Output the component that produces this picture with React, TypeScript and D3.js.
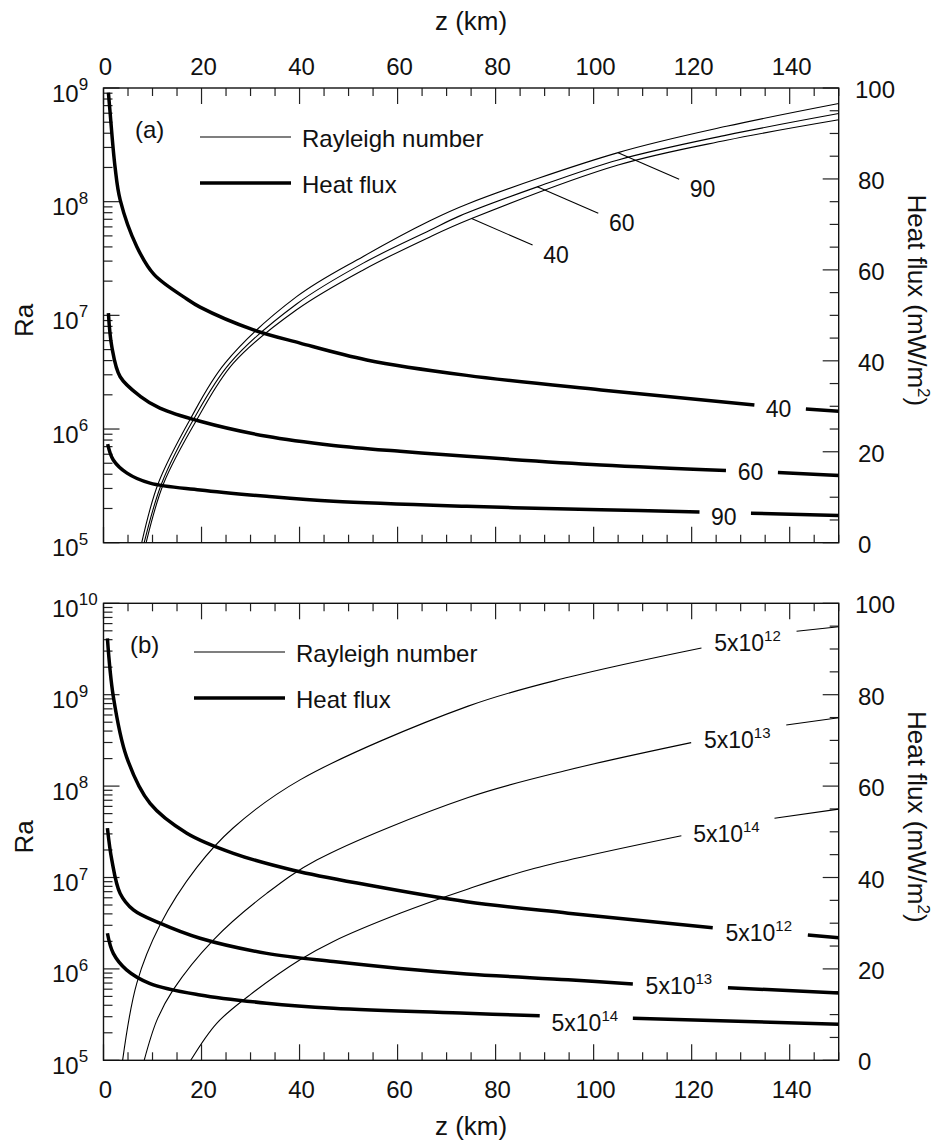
import React from 'react';
import * as d3 from 'd3';

// ---------------- data ----------------
const zTickLabels = [0, 20, 40, 60, 80, 100, 120, 140];
const heatTickLabels = [0, 20, 40, 60, 80, 100];
const raExponentsA = [5, 6, 7, 8, 9];
const raExponentsB = [5, 6, 7, 8, 9, 10];

// Panel (a) Rayleigh number curves [z (km), Ra]
const raA90: [number, number][] = [
  [7.8, 1.0e5], [11.2, 3.35e5], [17.6, 1.2e6], [24.8, 3.8e6], [39.4, 1.46e7], [53.0, 3.3e7],
  [66.6, 6.8e7], [74.4, 9.6e7], [105.0, 2.7e8], [127.1, 4.6e8], [150, 7.3e8],
];
const raA60: [number, number][] = [
  [8.3, 1.0e5], [11.9, 3.35e5], [18.3, 1.2e6], [25.8, 3.8e6], [39.4, 1.26e7], [53.0, 2.88e7],
  [66.6, 5.6e7], [72.7, 7.5e7], [88.5, 1.35e8], [105.0, 2.33e8], [127.1, 3.85e8], [150, 5.96e8],
];
const raA40: [number, number][] = [
  [8.7, 1.0e5], [12.3, 3.35e5], [19.0, 1.2e6], [26.5, 3.8e6], [39.4, 1.12e7], [53.0, 2.51e7],
  [66.6, 4.9e7], [75.1, 7.1e7], [105.0, 2.1e8], [127.1, 3.47e8], [150, 5.25e8],
];
// Panel (a) heat flux curves [z (km), mW/m2]
const hfA40: [number, number][] = [
  [1.0, 99.0], [1.3, 95.2], [2.35, 82.7], [3.4, 75.4], [6.8, 65.1], [10.3, 59.0],
  [17.0, 53.6], [19.7, 51.8], [30.6, 46.8], [40.1, 43.9], [53.7, 40.2], [74.1, 36.8],
  [101.5, 33.6], [132.8, 30.3], [143.3, 29.4], [150, 28.9],
];
const hfA60: [number, number][] = [
  [1.0, 50.5], [1.7, 43.1], [3.4, 36.5], [7.5, 32.2], [11.5, 29.6], [19.7, 26.7], [33.3, 23.4],
  [46.9, 21.4], [60.5, 20.1], [74.1, 19.0], [101.5, 17.1], [127.0, 15.9], [137.6, 15.45], [150, 14.8],
];
const hfA90: [number, number][] = [
  [0.85, 21.7], [2.0, 18.2], [4.8, 15.3], [9.5, 13.1], [19.7, 11.6], [33.3, 10.2], [46.9, 9.1],
  [74.1, 8.0], [101.5, 7.25], [121.6, 6.75], [132.1, 6.5], [150, 6.0],
];

// Panel (b) Rayleigh number curves
const raB12: [number, number][] = [
  [3.9, 1e5], [6.8, 7.0e5], [11.5, 3.0e6], [19.0, 1.28e7], [26.5, 3.5e7], [40.1, 1.17e8],
  [74.4, 7.5e8], [94.8, 1.55e9], [122.0, 3.25e9], [141.4, 4.95e9], [150, 5.55e9],
];
const raB13: [number, number][] = [
  [8.3, 1e5], [10.9, 2.75e5], [14.2, 5.9e5], [22.4, 2.07e6], [33.3, 6.7e6], [43.5, 1.55e7],
  [74.4, 7.5e7], [94.8, 1.5e8], [119.9, 2.99e8], [139.3, 4.67e8], [150, 5.6e8],
];
const raB14: [number, number][] = [
  [17.8, 1e5], [23.1, 2.54e5], [29.9, 5.2e5], [40.1, 1.26e6], [46.9, 2.0e6], [60.5, 4.06e6],
  [74.4, 7.5e6], [88.0, 1.26e7], [117.9, 2.86e7], [136.9, 4.45e7], [150, 5.6e7],
];
// Panel (b) heat flux curves
const hfB12: [number, number][] = [
  [0.8, 92.3], [2.0, 79.6], [4.7, 66.4], [9.5, 56.2], [17.0, 49.7], [26.5, 45.3], [38.7, 41.6],
  [53.7, 38.4], [74.1, 34.7], [94.8, 32.2], [124.3, 29.0], [143.7, 27.4], [150, 26.8],
];
const hfB13: [number, number][] = [
  [0.8, 50.8], [1.7, 43.8], [3.4, 36.5], [6.1, 32.9], [11.5, 30.0], [19.7, 26.7], [33.3, 23.4],
  [46.9, 21.6], [60.5, 20.1], [74.1, 18.9], [94.8, 17.6], [108.0, 16.7], [127.4, 15.9], [150, 14.7],
];
const hfB14: [number, number][] = [
  [0.8, 27.8], [2.0, 23.4], [4.7, 19.8], [9.5, 16.8], [19.7, 14.3], [33.3, 12.5], [46.9, 11.4],
  [74.1, 10.3], [89.0, 9.75], [108.0, 9.2], [150, 7.9],
];

// ---------------- layout ----------------
const W = 936;
const H = 1142;
const X0 = 103.5;
const X1 = 838.7;
const FONT = "'Liberation Sans', Arial, Helvetica, sans-serif";

type Label = { base: string; sup?: string };
type Series = {
  data: [number, number][];
  label: Label;
  gap?: [number, number];
  leaderZ?: number;
  labelDy?: number;
};

type PanelCfg = {
  name: string;
  top: number;
  bottom: number;
  exps: number[];
  thin: Series[];
  thick: Series[];
  topLabels: boolean;
  bottomLabels: boolean;
  legendX: number;
  legendY: number;
  tag: string;
  tagX: number;
  tagY: number;
};

const panels: PanelCfg[] = [
  {
    name: 'a', top: 88, bottom: 542.7, exps: raExponentsA,
    thin: [
      { data: raA90, label: { base: '90' }, leaderZ: 105.0 },
      { data: raA60, label: { base: '60' }, leaderZ: 88.5 },
      { data: raA40, label: { base: '40' }, leaderZ: 75.1 },
    ],
    thick: [
      { data: hfA40, label: { base: '40' }, gap: [132.8, 143.3], labelDy: 10 },
      { data: hfA60, label: { base: '60' }, gap: [127.0, 137.6], labelDy: 8.5 },
      { data: hfA90, label: { base: '90' }, gap: [121.6, 132.1], labelDy: 12 },
    ],
    topLabels: true, bottomLabels: false,
    legendX: 200, legendY: 137, tag: '(a)', tagX: 135, tagY: 138,
  },
  {
    name: 'b', top: 603.3, bottom: 1060.3, exps: raExponentsB,
    thin: [
      { data: raB12, label: { base: '5x10', sup: '12' }, gap: [122.0, 141.4], labelDy: 11 },
      { data: raB13, label: { base: '5x10', sup: '13' }, gap: [119.9, 139.3], labelDy: 14 },
      { data: raB14, label: { base: '5x10', sup: '14' }, gap: [117.9, 136.9], labelDy: 14.5 },
    ],
    thick: [
      { data: hfB12, label: { base: '5x10', sup: '12' }, gap: [124.3, 143.7], labelDy: 10 },
      { data: hfB13, label: { base: '5x10', sup: '13' }, gap: [108.0, 127.4], labelDy: 8 },
      { data: hfB14, label: { base: '5x10', sup: '14' }, gap: [89.0, 108.0], labelDy: 14.5 },
    ],
    topLabels: false, bottomLabels: true,
    legendX: 194, legendY: 652, tag: '(b)', tagX: 130, tagY: 653,
  },
];

function splitByGap(data: [number, number][], gap?: [number, number]) {
  if (!gap) return [data];
  return [data.filter((d) => d[0] <= gap[0]), data.filter((d) => d[0] >= gap[1])];
}

function LabelText({ x, y, label, size, supSize }: { x: number; y: number; label: Label; size: number; supSize: number }) {
  return (
    <text x={x} y={y} textAnchor="middle" fontSize={size} fontFamily={FONT} fill="#111">
      {label.base}
      {label.sup ? (
        <tspan dy={-10} fontSize={supSize}>{label.sup}</tspan>
      ) : null}
    </text>
  );
}

function Panel({ cfg }: { cfg: PanelCfg }) {
  const x = d3.scaleLinear().domain([0, 150]).range([X0, X1]);
  const raMin = Math.pow(10, cfg.exps[0]);
  const raMax = Math.pow(10, cfg.exps[cfg.exps.length - 1]);
  const yL = d3.scaleLog().domain([raMin, raMax]).range([cfg.bottom, cfg.top]);
  const yR = d3.scaleLinear().domain([0, 100]).range([cfg.bottom, cfg.top]);

  const curve = d3.curveCatmullRom.alpha(0.5);
  const lineRa = d3.line<[number, number]>().x((d) => x(d[0])).y((d) => yL(d[1])).curve(curve);
  const lineHf = d3.line<[number, number]>().x((d) => x(d[0])).y((d) => yR(d[1])).curve(curve);

  const zTicks = d3.range(0, 151, 5);
  const hfTicks = d3.range(0, 101, 5);
  const logTicks: { v: number; major: boolean }[] = [];
  cfg.exps.forEach((e, i) => {
    logTicks.push({ v: Math.pow(10, e), major: true });
    if (i < cfg.exps.length - 1) {
      for (let m = 2; m <= 9; m++) logTicks.push({ v: m * Math.pow(10, e), major: false });
    }
  });

  const clipId = `clip-${cfg.name}`;
  const midY = (cfg.top + cfg.bottom) / 2;

  const gapLabelPos = (s: Series, yScale: (v: number) => number) => {
    const g = s.gap!;
    const p0 = s.data.find((d) => d[0] === g[0])!;
    const p1 = s.data.find((d) => d[0] === g[1])!;
    return {
      x: (x(p0[0]) + x(p1[0])) / 2 - 1.5,
      y: (yScale(p0[1]) + yScale(p1[1])) / 2 + (s.labelDy ?? 10),
    };
  };

  return (
    <g>
      <defs>
        <clipPath id={clipId}>
          <rect x={X0} y={cfg.top} width={X1 - X0} height={cfg.bottom - cfg.top} />
        </clipPath>
      </defs>

      {/* ticks */}
      <g stroke="#222" strokeWidth={1.2}>
        {zTicks.map((z) => {
          const len = z % 20 === 0 ? 16 : 8;
          return (
            <g key={`zt${z}`}>
              <line x1={x(z)} x2={x(z)} y1={cfg.top} y2={cfg.top + len} />
              <line x1={x(z)} x2={x(z)} y1={cfg.bottom} y2={cfg.bottom - len} />
            </g>
          );
        })}
        {logTicks.map((t, i) => (
          <line key={`lt${i}`} x1={X0} x2={X0 + (t.major ? 16 : 9)} y1={yL(t.v)} y2={yL(t.v)} />
        ))}
        {hfTicks.map((v) => (
          <line key={`rt${v}`} x1={X1} x2={X1 - (v % 20 === 0 ? 16 : 9)} y1={yR(v)} y2={yR(v)} />
        ))}
      </g>

      {/* frame */}
      <rect x={X0} y={cfg.top} width={X1 - X0} height={cfg.bottom - cfg.top} fill="none" stroke="#111" strokeWidth={1.4} />

      {/* curves */}
      <g clipPath={`url(#${clipId})`} fill="none" stroke="#000" strokeLinejoin="round">
        {cfg.thin.map((s, i) =>
          splitByGap(s.data, s.gap).map((seg, j) => (
            <path key={`thin${i}-${j}`} d={lineRa(seg) || ''} strokeWidth={1.1} />
          ))
        )}
        {cfg.thick.map((s, i) =>
          splitByGap(s.data, s.gap).map((seg, j) => (
            <path key={`thick${i}-${j}`} d={lineHf(seg) || ''} strokeWidth={3.5} />
          ))
        )}
      </g>

      {/* thin labels */}
      {cfg.thin.map((s, i) => {
        if (s.leaderZ !== undefined) {
          const p = s.data.find((d) => d[0] === s.leaderZ)!;
          const sx = x(p[0]);
          const sy = yL(p[1]);
          const ex = sx + 61;
          const ey = sy + 26.5;
          return (
            <g key={`tl${i}`}>
              <line x1={sx} y1={sy} x2={ex} y2={ey} stroke="#000" strokeWidth={1.1} />
              <LabelText x={ex + 23.5} y={ey + 18} label={s.label} size={23} supSize={15} />
            </g>
          );
        }
        const pos = gapLabelPos(s, yL);
        return <LabelText key={`tl${i}`} x={pos.x} y={pos.y} label={s.label} size={23} supSize={15} />;
      })}

      {/* thick labels */}
      {cfg.thick.map((s, i) => {
        const pos = gapLabelPos(s, yR);
        return <LabelText key={`kl${i}`} x={pos.x} y={pos.y} label={s.label} size={23} supSize={15} />;
      })}

      {/* left tick labels */}
      {cfg.exps.map((e) => (
        <text key={`ll${e}`} x={52} y={yL(Math.pow(10, e)) + 13.5} fontSize={24} fontFamily={FONT} fill="#111">
          10<tspan dy={-11.5} fontSize={17}>{e}</tspan>
        </text>
      ))}

      {/* right tick labels */}
      {heatTickLabels.map((v) => (
        <text key={`rl${v}`} x={v === 100 ? 855 : 858} y={yR(v) + 10} fontSize={24} fontFamily={FONT} fill="#111">
          {v}
        </text>
      ))}

      {cfg.topLabels &&
        zTickLabels.map((z) => (
          <text key={`tz${z}`} x={x(z) + 2} y={75} textAnchor="middle" fontSize={24} fontFamily={FONT} fill="#111">
            {z}
          </text>
        ))}
      {cfg.bottomLabels &&
        zTickLabels.map((z) => (
          <text key={`bz${z}`} x={x(z) + 2} y={1098} textAnchor="middle" fontSize={24} fontFamily={FONT} fill="#111">
            {z}
          </text>
        ))}

      {/* axis titles */}
      <text transform={`translate(33, ${midY + 5}) rotate(-90)`} textAnchor="middle" fontSize={26} fontFamily={FONT} fill="#111">
        Ra
      </text>
      <text transform={`translate(908, ${midY - 15}) rotate(90)`} textAnchor="middle" fontSize={26} fontFamily={FONT} fill="#111">
        Heat flux (mW/m<tspan dy={-10} fontSize={17}>2</tspan><tspan dy={10}>)</tspan>
      </text>

      {/* panel tag */}
      <text x={cfg.tagX} y={cfg.tagY} fontSize={24} fontFamily={FONT} fill="#111">
        {cfg.tag}
      </text>

      {/* legend */}
      <line x1={cfg.legendX} x2={cfg.legendX + 91} y1={cfg.legendY} y2={cfg.legendY} stroke="#000" strokeWidth={1.1} />
      <text x={cfg.legendX + 102} y={cfg.legendY + 9.5} fontSize={24} fontFamily={FONT} fill="#111">
        Rayleigh number
      </text>
      <line x1={cfg.legendX} x2={cfg.legendX + 91} y1={cfg.legendY + 46} y2={cfg.legendY + 46} stroke="#000" strokeWidth={3.5} />
      <text x={cfg.legendX + 102} y={cfg.legendY + 55.5} fontSize={24} fontFamily={FONT} fill="#111">
        Heat flux
      </text>
    </g>
  );
}

export default function App() {
  const cx = (X0 + X1) / 2;
  return (
    <svg
      width={W}
      height={H}
      viewBox={`0 0 ${W} ${H}`}
      style={{ position: 'absolute', left: 0, top: 0, background: '#fff' }}
    >
      <rect x={0} y={0} width={W} height={H} fill="#fff" />
      <text x={cx} y={30} textAnchor="middle" fontSize={26} fontFamily={FONT} fill="#111">
        z (km)
      </text>
      {panels.map((p) => (
        <Panel key={p.name} cfg={p} />
      ))}
      <text x={cx} y={1135} textAnchor="middle" fontSize={26} fontFamily={FONT} fill="#111">
        z (km)
      </text>
    </svg>
  );
}
